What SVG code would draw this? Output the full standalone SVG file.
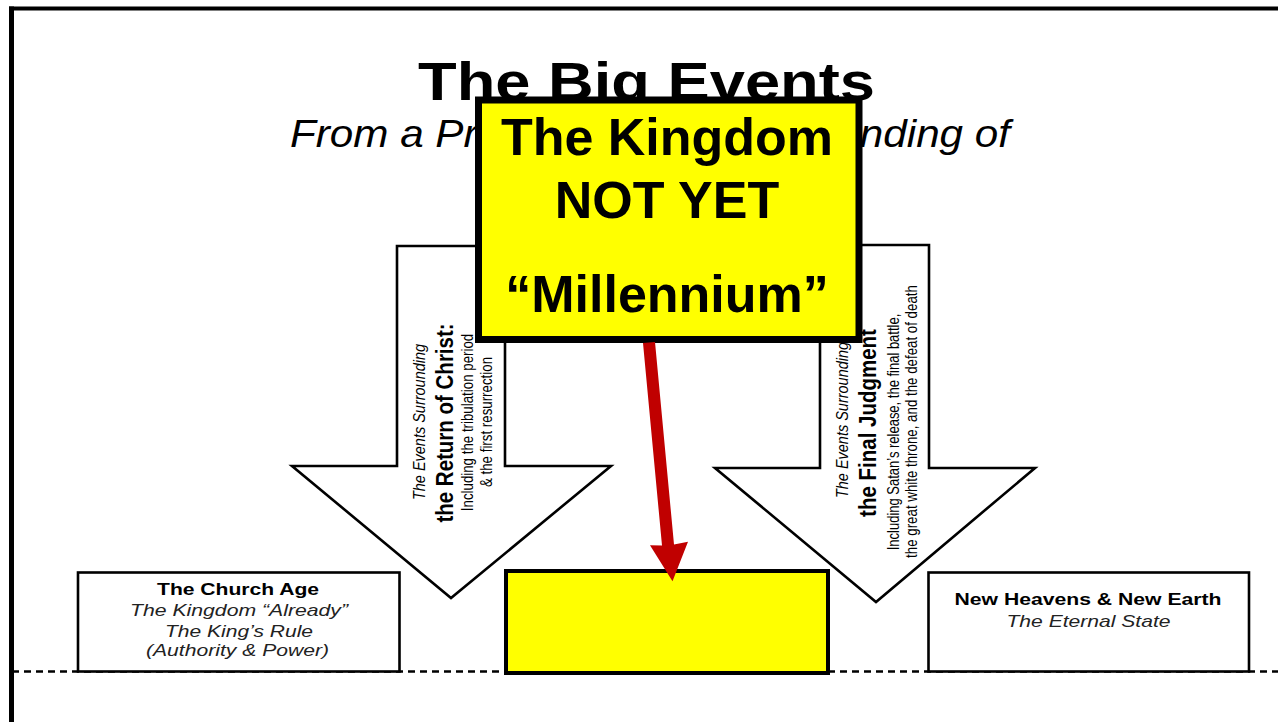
<svg xmlns="http://www.w3.org/2000/svg" width="1278" height="722" viewBox="0 0 1278 722">
  <style>
    text { font-family: "Liberation Sans", Arial, sans-serif; fill: #000; }
    .b { font-weight: bold; }
    .i { font-style: italic; }
    .mid { text-anchor: middle; }
    .box { fill: #fff; stroke: #000; stroke-width: 2.6; }
    .bigarrow { fill: #fff; stroke: #000; stroke-width: 2.6; stroke-linejoin: miter; }
    .yellow { fill: #ffff00; stroke: #000; }
    .grey { fill: #222; }
  </style>

  <rect x="0" y="0" width="1278" height="722" fill="#fff"/>

  <g id="frame">
    <line x1="11.5" y1="6.5" x2="11.5" y2="722" stroke="#000" stroke-width="5"/>
    <line x1="9" y1="8.5" x2="1278" y2="8.5" stroke="#000" stroke-width="4"/>
  </g>

  <g id="title">
    <text class="b mid" x="646.5" y="100" font-size="53" textLength="457" lengthAdjust="spacingAndGlyphs">The Big Events</text>
    <text class="i" x="290" y="146.5" font-size="38" textLength="720" lengthAdjust="spacingAndGlyphs">From a Premillennial Understanding of</text>
  </g>

  <g id="timeline">
    <line x1="12" y1="671.5" x2="1278" y2="671.5" stroke="#000" stroke-width="2.6" stroke-dasharray="7 5"/>
  </g>

  <g id="return-of-christ">
    <polygon class="bigarrow" points="397,246 505,246 505,466 611,466 451,598 292,466 397,466"/>
    <text class="i mid" font-size="14.5" transform="translate(425,422) scale(1.2,1) rotate(-90)">The Events Surrounding</text>
    <text class="b mid" font-size="20.5" transform="translate(452.5,423) scale(1.2,1) rotate(-90)">the Return of Christ:</text>
    <text class="mid" font-size="13.3" transform="translate(473,422.5) scale(1.2,1) rotate(-90)">Including the tribulation period</text>
    <text class="mid" font-size="13.3" transform="translate(491.5,422) scale(1.2,1) rotate(-90)">&amp; the first resurrection</text>
  </g>

  <g id="final-judgment">
    <polygon class="bigarrow" points="820,245 929,245 929,468 1035,468 876,602 715,468 820,468"/>
    <text class="i mid" font-size="14.5" transform="translate(847.5,420) scale(1.2,1) rotate(-90)">The Events Surrounding</text>
    <text class="b mid" font-size="20.5" transform="translate(876,423) scale(1.2,1) rotate(-90)">the Final Judgment</text>
    <text class="mid" font-size="13" transform="translate(898.5,432) scale(1.2,1) rotate(-90)">Including Satan’s release, the final battle,</text>
    <text class="mid" font-size="13.3" transform="translate(916.5,421.5) scale(1.2,1) rotate(-90)">the great white throne, and the defeat of death</text>
  </g>

  <g id="church-age">
    <rect class="box" x="78" y="572.5" width="321.5" height="99"/>
    <text class="b mid" x="238" y="595" font-size="17" textLength="162" lengthAdjust="spacingAndGlyphs">The Church Age</text>
    <text class="i mid grey" x="239" y="616" font-size="17" textLength="218" lengthAdjust="spacingAndGlyphs">The Kingdom “Already”</text>
    <text class="i mid grey" x="239" y="637" font-size="17" textLength="148" lengthAdjust="spacingAndGlyphs">The King’s Rule</text>
    <text class="i mid grey" x="237.5" y="656" font-size="17" textLength="183" lengthAdjust="spacingAndGlyphs">(Authority &amp; Power)</text>
  </g>

  <g id="millennium-slot">
    <rect class="yellow" x="506" y="571" width="322" height="102" stroke-width="4"/>
  </g>

  <g id="new-heavens">
    <rect class="box" x="928.5" y="572.5" width="320.5" height="99"/>
    <text class="b mid" x="1088" y="605" font-size="17" textLength="267" lengthAdjust="spacingAndGlyphs">New Heavens &amp; New Earth</text>
    <text class="i mid grey" x="1088.5" y="627" font-size="17" textLength="164" lengthAdjust="spacingAndGlyphs">The Eternal State</text>
  </g>

  <g id="kingdom-not-yet">
    <rect class="yellow" x="478.5" y="100" width="380.5" height="239.5" stroke-width="7"/>
    <text class="b mid" x="667" y="155" font-size="52">The Kingdom</text>
    <text class="b mid" x="667" y="218" font-size="52">NOT YET</text>
    <text class="b mid" x="667" y="311.5" font-size="52">“Millennium”</text>
  </g>

  <g id="connectors">
    <polygon fill="#c00000" points="643,343 655,342 674,544.5 688,541.8 672.5,581.3 650,545.3 662,545.5"/>
  </g>
</svg>
